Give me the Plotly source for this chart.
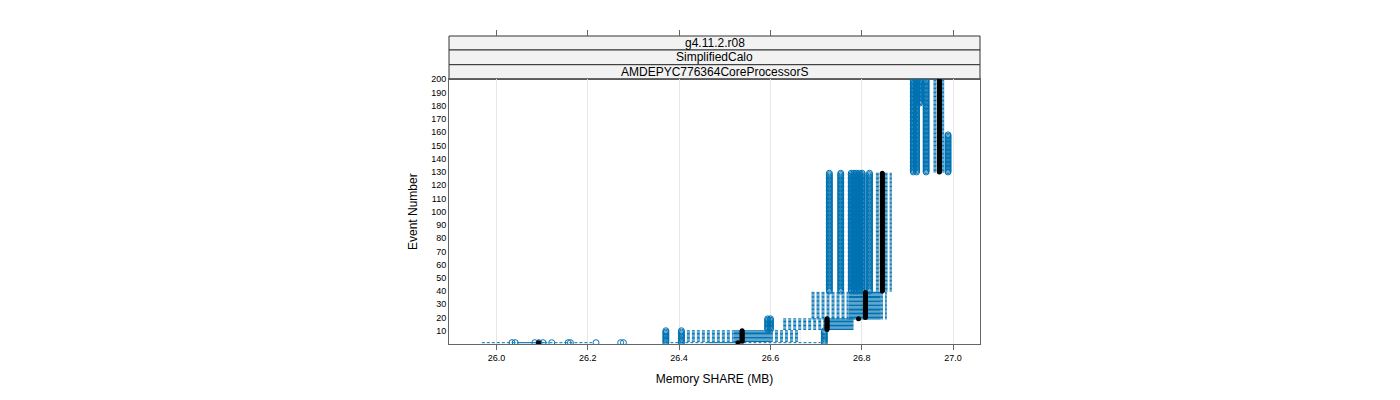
import plotly.graph_objects as go

# box rows: event range and box stats (Memory SHARE, MB)
ev_from = [1, 1, 2, 11, 19, 20, 40, 130]
ev_to = [1, 1, 10, 19, 19, 39, 129, 200]
w_lo = [25.968, 26.370, 26.417, 26.628, 26.690, 26.690, 26.831, 26.957]
q_lo = [26.045, 26.464, 26.519, 26.720, 26.771, 26.771, 26.841, 26.966]
med = [26.092, 26.529, 26.538, 26.724, 26.793, 26.808, 26.845, 26.970]
q_hi = [26.105, 26.530, 26.599, 26.782, 26.840, 26.840, 26.850, 26.974]
w_hi = [26.209, 26.710, 26.665, 26.782, 26.855, 26.855, 26.866, 26.985]
outl = [
    [26.034, 26.041, 26.084, 26.093, 26.102, 26.121, 26.157, 26.162, 26.218, 26.272, 26.278],
    [26.371, 26.405, 26.718],
    [26.371, 26.405, 26.718],
    [26.594, 26.600],
    [],
    [],
    [26.729, 26.754, 26.777, 26.783, 26.789, 26.795, 26.801, 26.817],
    [26.913, 26.920, 26.941],
]
# extra outlier columns that cover only part of a group
extra_from = [182, 130]
extra_to = [200, 158]
extra_x = [26.927, 26.989]

xticks = [26.0, 26.2, 26.4, 26.6, 26.8, 27.0]
yticks = list(range(10, 201, 10))
strips = ["g4.11.2.r08", "SimplifiedCalo", "AMDEPYC776364CoreProcessorS"]

blue = "#0072B2"

wx, wy, bx, by, ox, oy, mx, my = [], [], [], [], [], [], [], []
for i in range(len(ev_from)):
    for e in range(ev_from[i], ev_to[i] + 1):
        wx += [w_lo[i], q_lo[i], None, q_hi[i], w_hi[i], None]
        wy += [e, e, None, e, e, None]
        bx += [q_lo[i], q_hi[i], None]
        by += [e, e, None]
        mx.append(med[i])
        my.append(e)
        for v in outl[i]:
            ox.append(v)
            oy.append(e)
for i in range(len(extra_x)):
    for e in range(extra_from[i], extra_to[i] + 1):
        ox.append(extra_x[i])
        oy.append(e)

fig = go.Figure()
fig.add_trace(go.Scatter(x=wx, y=wy, mode="lines",
                         line=dict(color=blue, width=1, dash="3px,2px"),
                         hoverinfo="skip", showlegend=False))
fig.add_trace(go.Scatter(x=bx, y=by, mode="lines",
                         line=dict(color=blue, width=1.1),
                         hoverinfo="skip", showlegend=False))
fig.add_trace(go.Scatter(x=ox, y=oy, mode="markers",
                         marker=dict(symbol="circle-open", size=6, color=blue,
                                     line=dict(width=1, color=blue)),
                         hoverinfo="skip", showlegend=False))
fig.add_trace(go.Scatter(x=mx, y=my, mode="markers",
                         marker=dict(symbol="circle", size=5, color="black"),
                         hoverinfo="skip", showlegend=False))
# carrier for the top tick axis
fig.add_trace(go.Scatter(x=[xticks[0]], y=[yticks[0]], xaxis="x2", mode="markers",
                         marker=dict(opacity=0), hoverinfo="skip", showlegend=False))

xr = [25.896, 27.059]
top = 0.8594
fig.update_layout(
    width=1400, height=400,
    margin=dict(l=441, r=428, t=28, b=64),
    plot_bgcolor="white", paper_bgcolor="white",
    font=dict(family="Liberation Sans, Arial, sans-serif", color="black"),
    xaxis=dict(range=xr, tickvals=xticks, ticktext=[f"{v:.1f}" for v in xticks],
               showgrid=True, gridcolor="#e6e6e6", gridwidth=1, zeroline=False,
               showline=True, linecolor="#666", linewidth=1, mirror=True,
               ticks="outside", ticklen=5, tickcolor="#666",
               tickfont=dict(size=9),
               title=dict(text="Memory SHARE (MB)", font=dict(size=12), standoff=12)),
    xaxis2=dict(range=xr, tickvals=xticks, overlaying="x", side="top",
                anchor="free", position=1, showticklabels=False, showgrid=False,
                zeroline=False, showline=False, ticks="outside", ticklen=6,
                tickcolor="#666"),
    yaxis=dict(range=[0, 200], domain=[0, top], tickvals=yticks,
               showgrid=False, zeroline=False, showline=True, linecolor="#666",
               linewidth=1, mirror=True, ticks="", tickfont=dict(size=9),
               title=dict(text="Event Number", font=dict(size=12), standoff=10)),
)

bounds = [1.0, 0.9545, 0.9068, top]
for i, s in enumerate(strips):
    fig.add_shape(type="rect", xref="paper", yref="paper", x0=0, x1=1,
                  y0=bounds[i + 1], y1=bounds[i], fillcolor="#f2f2f2",
                  line=dict(color="#333", width=1), layer="below")
    fig.add_annotation(xref="paper", yref="paper", x=0.5,
                       y=(bounds[i] + bounds[i + 1]) / 2, text=s, showarrow=False,
                       font=dict(size=12, color="black"), yanchor="middle")

fig.write_html("out.html")
